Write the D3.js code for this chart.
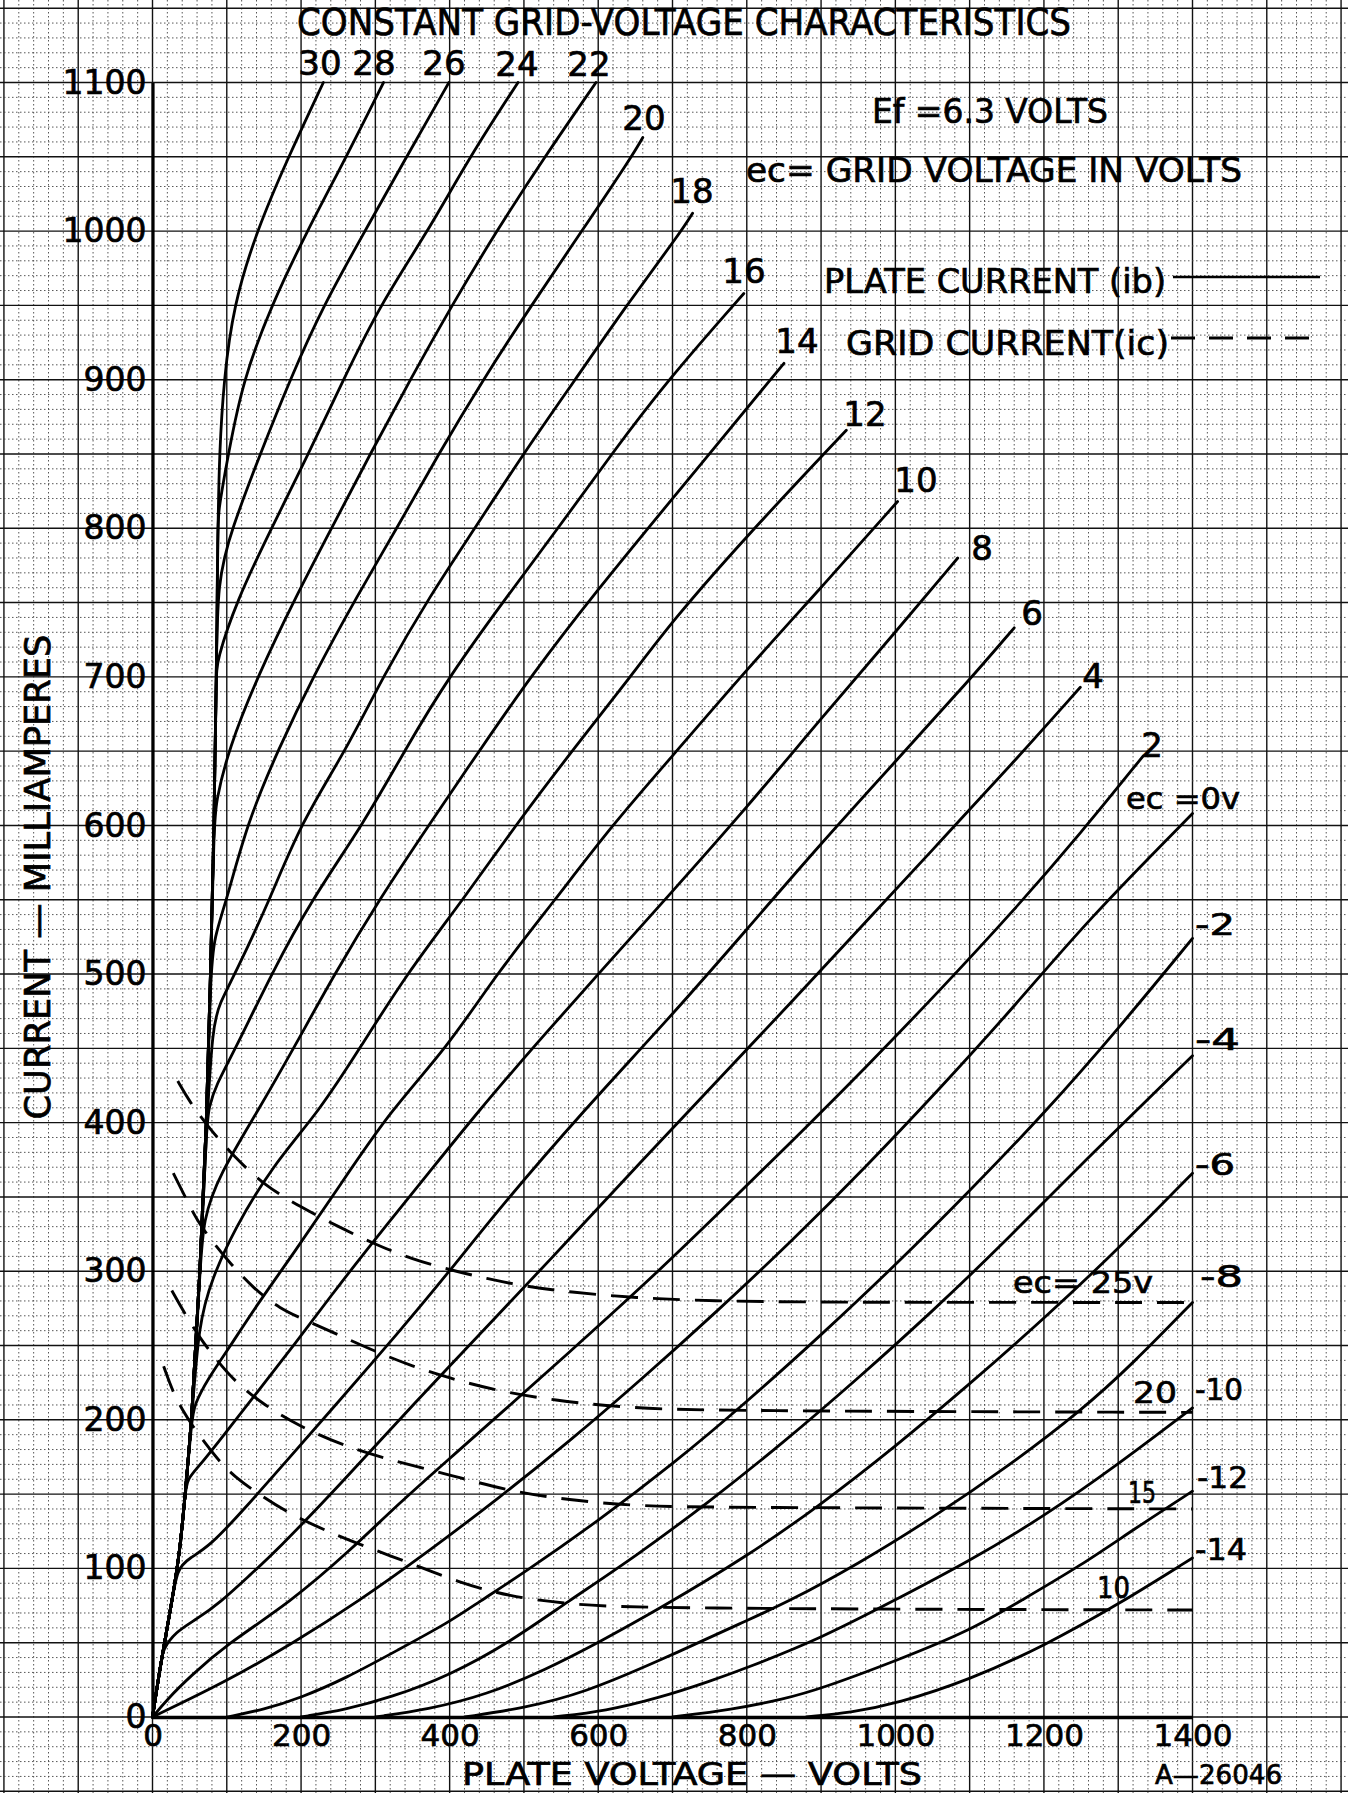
<!DOCTYPE html>
<html>
<head>
<meta charset="utf-8">
<script src="https://cdn.jsdelivr.net/npm/d3@7"></script>
<style>
  html, body { margin: 0; padding: 0; background: #fff; }
  svg { display: block; }
  text { font-family: "DejaVu Sans", sans-serif; fill: #000; stroke: #000; stroke-width: 0.7px; }
</style>
</head>
<body>
<svg id="chart" width="1348" height="1793"></svg>
<script>
// Tick values
var xTicks = [0, 200, 400, 600, 800, 1000, 1200, 1400];
var yTicks = [0, 100, 200, 300, 400, 500, 600, 700, 800, 900, 1000, 1100];

// Plate current curves, [plate volts, mA]
// steep common branch that every positive-grid curve runs into
var diodeLine = [[0, 0], [12, 39], [26, 77], [37, 112], [44, 150], [53, 200], [64, 300], [73, 400], [78, 500], [83, 600], [86, 700], [88, 800], [90, 850]];

var ib30 = [[90, 850], [96, 900], [109, 950], [140, 1000], [183, 1050], [230, 1100]];
var ib28 = [[88, 810], [102, 850], [122, 900], [160, 950], [208, 1000], [261, 1050], [311, 1100]];
var ib26 = [[87, 765], [107, 800], [145, 850], [185, 900], [230, 950], [286, 1000], [342, 1050], [399, 1100]];
var ib24 = [[86, 710], [113, 751], [160, 800], [210, 850], [257, 900], [306, 950], [371, 1000], [427, 1050], [492, 1100]];
var ib22 = [[85, 615], [102, 651], [142, 701], [194, 755], [241, 800], [293, 850], [347, 900], [403, 950], [463, 1000], [528, 1050], [597, 1100]];
var ib20 = [[83, 525], [100, 550], [127, 601], [169, 651], [217, 701], [276, 755], [329, 800], [385, 850], [445, 900], [510, 950], [578, 1000], [645, 1050], [660, 1063]];
var ib18 = [[81, 465], [90, 480], [111, 500], [158, 550], [199, 601], [261, 651], [311, 701], [374, 755], [434, 800], [499, 850], [569, 900], [638, 950], [712, 1000], [727, 1012]];
var ib16 = [[76, 410], [85, 425], [111, 449], [160, 500], [214, 550], [284, 601], [340, 651], [400, 701], [483, 758], [546, 800], [618, 850], [694, 900], [796, 958]];
var ib14 = [[68, 335], [90, 365], [142, 408], [190, 450], [245, 500], [305, 550], [373, 601], [441, 651], [510, 701], [598, 758], [700, 820], [850, 911]];
var ib12 = [[62, 265], [80, 295], [110, 328], [160, 370], [225, 408], [279, 450], [342, 500], [418, 550], [490, 601], [566, 651], [645, 701], [697, 736], [800, 795], [934, 866]];
var ib10 = [[56, 210], [75, 228], [100, 246], [140, 277], [190, 312], [250, 356], [320, 408], [396, 450], [463, 500], [542, 550], [620, 601], [697, 645], [800, 705], [900, 760], [1003, 818]];
var ib8 = [[46, 160], [65, 170], [95, 189], [140, 218], [190, 250], [250, 290], [310, 328], [370, 365], [439, 408], [520, 455], [600, 500], [697, 554], [800, 612], [900, 672], [1000, 730], [1084, 780]];
var ib6 = [[33, 100], [50, 107], [77, 115], [120, 138], [180, 172], [250, 212], [330, 258], [400, 300], [468, 343], [580, 408], [697, 471], [800, 530], [900, 588], [1000, 643], [1100, 698], [1160, 733]];
var ib4 = [[14, 45], [30, 57], [60, 66], [91, 77], [130, 95], [167, 112], [250, 155], [350, 210], [468, 272], [560, 321], [660, 375], [760, 428], [860, 481], [960, 535], [1060, 589], [1160, 643], [1249, 693]];
var ib2 = [[0, 0], [20, 12], [50, 27], [100, 49], [185, 77], [266, 112], [330, 143], [400, 174], [468, 204], [560, 245], [660, 290], [760, 338], [860, 387], [960, 437], [1060, 489], [1160, 543], [1250, 595], [1334, 647]];
var ib0 = [[0, 0], [100, 24], [190, 50], [275, 77], [373, 112], [468, 148], [560, 185], [660, 228], [760, 273], [860, 320], [960, 370], [1060, 423], [1160, 478], [1260, 537], [1400, 608]];
var ibm2 = [[100, 0], [150, 5], [200, 13], [260, 26], [330, 45], [400, 64], [438, 77], [500, 97], [600, 132], [700, 170], [800, 212], [900, 257], [1000, 304], [1100, 354], [1200, 406], [1300, 463], [1400, 524]];
var ibm4 = [[200, 0], [260, 5], [320, 13], [400, 28], [480, 50], [557, 77], [650, 108], [750, 145], [850, 185], [950, 228], [1050, 273], [1150, 321], [1250, 372], [1400, 445]];
var ibm6 = [[300, 0], [370, 5], [450, 15], [530, 32], [600, 50], [683, 73], [800, 108], [900, 143], [1000, 182], [1100, 224], [1200, 268], [1300, 315], [1400, 366]];
var ibm8 = [[420, 0], [500, 6], [580, 16], [683, 38], [800, 65], [854, 77], [950, 103], [1050, 134], [1150, 168], [1250, 206], [1320, 238], [1400, 279]];
var ibm10 = [[540, 0], [610, 4], [683, 13], [750, 24], [800, 33], [900, 53], [993, 77], [1100, 105], [1200, 135], [1300, 170], [1400, 208]];
var ibm12 = [[700, 0], [780, 5], [850, 12], [900, 19], [1002, 38], [1100, 58], [1168, 78], [1250, 102], [1320, 126], [1400, 152]];
var ibm14 = [[880, 0], [940, 3], [1002, 9], [1100, 25], [1201, 48], [1301, 76], [1400, 107]];

// Grid current curves (dashed), [plate volts, mA]
var ic25 = [[34, 428], [50, 414], [75, 397], [110, 377], [150, 358], [200, 343], [250, 330], [300, 318], [350, 308], [400, 301], [450, 295], [500, 290], [560, 286], [650, 282], [750, 280], [900, 279], [1400, 279]];
var ic20 = [[28, 366], [44, 350], [60, 334], [82, 319], [105, 305], [135, 289], [170, 275], [215, 265], [260, 255], [300, 246], [350, 236], [400, 228], [460, 220], [540, 213], [640, 208], [750, 206], [1400, 205]];
var ic15 = [[26, 287], [44, 271], [64, 255], [82, 243], [110, 226], [150, 210], [200, 195], [260, 182], [320, 173], [400, 163], [480, 152], [560, 146], [650, 142], [750, 141], [1400, 140]];
var ic10 = [[15, 236], [28, 218], [40, 207], [55, 195], [70, 185], [90, 172], [110, 162], [140, 151], [180, 138], [230, 126], [290, 114], [350, 103], [410, 91], [480, 81], [560, 76], [650, 73], [1400, 72]];

var plateNames = ["30", "28", "26", "24", "22", "20", "18", "16", "14", "12", "10", "8", "6", "4", "2", "ec =0v", "-2", "-4", "-6", "-8", "-10", "-12", "-14"];
var gridNames = ["ec= 25v", "20", "15", "10"];

// label placement (pixels): [x, baseline, anchor, textLength or 0, font size]
var plateLabelPos = [
  [320, 75, "middle", 0, 34], [374, 75, "middle", 0, 34], [444, 75, "middle", 0, 34],
  [517, 76, "middle", 0, 34], [589, 76, "middle", 0, 34], [644, 130, "middle", 0, 34],
  [692, 203, "middle", 0, 34], [744, 283, "middle", 0, 34], [797, 353, "middle", 0, 34],
  [865, 426, "middle", 0, 34], [916, 492, "middle", 0, 34], [982, 560, "middle", 0, 34],
  [1032, 625, "middle", 0, 34], [1093, 688, "middle", 0, 34], [1152, 757, "middle", 0, 34],
  [1126, 809, "start", 114, 31], [1195, 935, "start", 40, 31], [1195, 1050, "start", 45, 31],
  [1195, 1175, "start", 40, 31], [1200, 1287, "start", 43, 31], [1195, 1400, "start", 48, 31],
  [1197, 1488, "start", 51, 31], [1195, 1560, "start", 52, 31]
];
var gridLabelPos = [[1013, 1293, 140], [1133, 1403, 44], [1128, 1503, 28], [1097, 1598, 33]];

function tubeChart() {
  var width = 1348;
  var height = 1793;

  var svg = d3.select("#chart");

  var x = d3.scaleLinear().domain([0, 1400]).range([152.5, 1192.5]);
  var y = d3.scaleLinear().domain([0, 1100]).range([1717, 82.5]);

  // graph paper over the whole sheet
  var paper = svg.append("g").attr("class", "paper");
  var vLines = d3.range(-200, 1601, 20);
  var hLines = d3.range(-50, 1151, 10);

  paper.selectAll("line.v")
    .data(vLines)
    .enter()
    .append("line")
    .attr("class", "v")
    .attr("x1", function(d) { return x(d); })
    .attr("x2", function(d) { return x(d); })
    .attr("y1", 0)
    .attr("y2", height)
    .attr("stroke", function(d) { return d % 100 === 0 ? "#111" : "#444"; })
    .attr("stroke-width", function(d) { return d % 100 === 0 ? 1.4 : 0.9; })
    .attr("stroke-dasharray", function(d) { return d % 100 === 0 ? null : "1.5,2.5"; });

  paper.selectAll("line.h")
    .data(hLines)
    .enter()
    .append("line")
    .attr("class", "h")
    .attr("x1", 0)
    .attr("x2", width)
    .attr("y1", function(d) { return y(d); })
    .attr("y2", function(d) { return y(d); })
    .attr("stroke", function(d) { return d % 50 === 0 ? "#111" : "#444"; })
    .attr("stroke-width", function(d) { return d % 50 === 0 ? 1.4 : 0.9; })
    .attr("stroke-dasharray", function(d) { return d % 50 === 0 ? null : "1.5,2.5"; });

  // axes
  var yAxis = svg.append("g")
    .attr("transform", "translate(" + x(0) + ",0)")
    .call(d3.axisLeft(y).tickValues(yTicks).tickSize(0).tickSizeOuter(0).tickPadding(6).tickFormat(d3.format("d")));
  yAxis.select(".domain").attr("stroke", "#000").attr("stroke-width", 3.2);
  yAxis.selectAll("text")
    .attr("font-family", "DejaVu Sans, sans-serif")
    .attr("font-size", 33)
    .attr("fill", "#000");

  var xAxis = svg.append("g")
    .attr("transform", "translate(0," + y(0) + ")")
    .call(d3.axisBottom(x).tickValues(xTicks).tickSize(0).tickSizeOuter(0).tickPadding(7).tickFormat(d3.format("d")));
  xAxis.select(".domain").attr("stroke", "#000").attr("stroke-width", 3.6);
  xAxis.selectAll("text")
    .attr("font-family", "DejaVu Sans, sans-serif")
    .attr("font-size", 31)
    .attr("fill", "#000");

  // curves
  var line = d3.line()
    .x(function(d) { return x(d[0]); })
    .y(function(d) { return y(d[1]); })
    .curve(d3.curveBasis);

  function withDiode(branch) {
    return diodeLine.filter(function(p) { return p[1] < branch[0][1]; }).concat(branch);
  }

  var plateSeries = [
    withDiode(ib30), withDiode(ib28), withDiode(ib26), withDiode(ib24), withDiode(ib22),
    withDiode(ib20), withDiode(ib18), withDiode(ib16), withDiode(ib14), withDiode(ib12),
    withDiode(ib10), withDiode(ib8), withDiode(ib6), withDiode(ib4),
    ib2, ib0, ibm2, ibm4, ibm6, ibm8, ibm10, ibm12, ibm14
  ];
  var gridSeries = [ic25, ic20, ic15, ic10];

  svg.append("g")
    .attr("class", "plate")
    .selectAll("path")
    .data(plateSeries)
    .enter()
    .append("path")
    .attr("d", line)
    .attr("fill", "none")
    .attr("stroke", "#000")
    .attr("stroke-width", 2.8)
    .attr("stroke-linejoin", "round")
    .attr("stroke-linecap", "round");

  svg.append("g")
    .attr("class", "grid-current")
    .selectAll("path")
    .data(gridSeries)
    .enter()
    .append("path")
    .attr("d", line)
    .attr("fill", "none")
    .attr("stroke", "#000")
    .attr("stroke-width", 2.9)
    .attr("stroke-dasharray", "27,15");

  // curve labels
  var labels = svg.append("g").attr("class", "labels");
  plateNames.forEach(function(name, i) {
    var p = plateLabelPos[i];
    var t = labels.append("text")
      .attr("x", p[0])
      .attr("y", p[1])
      .attr("text-anchor", p[2])
      .attr("font-size", p[4])
      .text(name);
    if (p[3]) t.attr("textLength", p[3]).attr("lengthAdjust", "spacingAndGlyphs");
  });
  gridNames.forEach(function(name, i) {
    var p = gridLabelPos[i];
    labels.append("text")
      .attr("x", p[0])
      .attr("y", p[1])
      .attr("font-size", 31)
      .attr("textLength", p[2])
      .attr("lengthAdjust", "spacingAndGlyphs")
      .text(name);
  });

  // titles and notes
  function note(str, xPos, yPos, size, len) {
    return svg.append("text")
      .attr("x", xPos)
      .attr("y", yPos)
      .attr("font-size", size)
      .attr("textLength", len)
      .attr("lengthAdjust", "spacingAndGlyphs")
      .text(str);
  }
  note("CONSTANT GRID-VOLTAGE CHARACTERISTICS", 297, 35, 37, 774);
  note("Ef =6.3 VOLTS", 872, 123, 34, 236);
  note("ec= GRID VOLTAGE IN VOLTS", 746, 182, 34, 496);
  note("PLATE CURRENT (ib)", 824, 293, 34, 342);
  note("GRID  CURRENT(ic)", 846, 355, 34, 323);
  note("PLATE VOLTAGE \u2014 VOLTS", 462, 1785, 32, 460);
  note("A\u201426046", 1155, 1784, 27, 127);

  svg.append("text")
    .attr("transform", "translate(50,877) rotate(-90)")
    .attr("text-anchor", "middle")
    .attr("font-size", 35)
    .attr("textLength", 485)
    .attr("lengthAdjust", "spacingAndGlyphs")
    .text("CURRENT \u2014 MILLIAMPERES");

  // legend strokes
  svg.append("line")
    .attr("x1", 1173).attr("x2", 1320)
    .attr("y1", 277).attr("y2", 277)
    .attr("stroke", "#000").attr("stroke-width", 2.6);
  svg.append("line")
    .attr("x1", 1171).attr("x2", 1320)
    .attr("y1", 338).attr("y2", 338)
    .attr("stroke", "#000").attr("stroke-width", 2.8)
    .attr("stroke-dasharray", "24,14");
}

tubeChart();
</script>
</body>
</html>
